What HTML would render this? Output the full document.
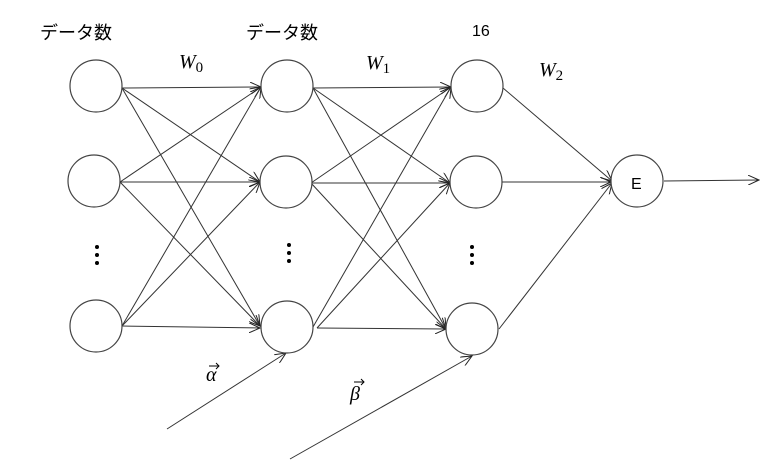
<!DOCTYPE html>
<html><head><meta charset="utf-8"><style>
html,body{margin:0;padding:0;background:#fff;}
svg{display:block}
</style></head><body>
<svg width="768" height="474" viewBox="0 0 768 474" xmlns="http://www.w3.org/2000/svg">
<defs>
<marker id="a" markerWidth="12" markerHeight="10" refX="11" refY="5" orient="auto" markerUnits="userSpaceOnUse">
<path d="M0,0 L11,5 L0,10" fill="none" stroke="#222" stroke-width="1"/>
</marker>
</defs>
<g stroke="#333" stroke-width="1" fill="none" marker-end="url(#a)">
<line x1="122" y1="88" x2="261" y2="87"/>
<line x1="122" y1="88" x2="260" y2="182"/>
<line x1="122" y1="88" x2="260" y2="326"/>
<line x1="120" y1="182" x2="261" y2="87"/>
<line x1="120" y1="182" x2="260" y2="182"/>
<line x1="120" y1="182" x2="260" y2="326"/>
<line x1="122" y1="326" x2="261" y2="87"/>
<line x1="122" y1="326" x2="260" y2="182"/>
<line x1="122" y1="326" x2="260" y2="328"/>
<line x1="313" y1="88" x2="451" y2="87"/>
<line x1="313" y1="88" x2="450" y2="183"/>
<line x1="313" y1="88" x2="446" y2="329"/>
<line x1="311" y1="183" x2="451" y2="87"/>
<line x1="311" y1="183" x2="450" y2="183"/>
<line x1="311" y1="183" x2="446" y2="329"/>
<line x1="313" y1="327" x2="451" y2="87"/>
<line x1="317" y1="328" x2="450" y2="183"/>
<line x1="317" y1="328" x2="446" y2="329"/>
<line x1="503" y1="88" x2="612" y2="181"/>
<line x1="502" y1="182" x2="611" y2="182"/>
<line x1="499" y1="329" x2="612" y2="183"/>
<line x1="664" y1="181" x2="759" y2="180"/>
<line x1="167" y1="429" x2="286" y2="353"/>
<line x1="290" y1="459" x2="472" y2="356"/>
</g>
<g stroke="#444" stroke-width="1.2" fill="#fff">
<circle cx="96" cy="86" r="26"/>
<circle cx="94" cy="181" r="26"/>
<circle cx="96" cy="326" r="26"/>
<circle cx="287" cy="86" r="26"/>
<circle cx="286" cy="182" r="26"/>
<circle cx="287" cy="327" r="26"/>
<circle cx="477" cy="86" r="26"/>
<circle cx="476" cy="182" r="26"/>
<circle cx="472" cy="329" r="26"/>
<circle cx="637" cy="181" r="26"/>
</g>
<g fill="#000">
<circle cx="97" cy="247" r="2"/><circle cx="97" cy="255" r="2"/><circle cx="97" cy="263" r="2"/>
<circle cx="289" cy="245" r="2"/><circle cx="289" cy="253" r="2"/><circle cx="289" cy="261" r="2"/>
<circle cx="472" cy="247" r="2"/><circle cx="472" cy="255" r="2"/><circle cx="472" cy="263" r="2"/>
</g>
<g font-family="Liberation Sans, Noto Sans CJK JP, sans-serif" font-size="18" fill="#000">
<text x="40" y="39">データ数</text>
<text x="246" y="39">データ数</text>
<text x="472" y="36" font-size="16">16</text>
<text x="631" y="189" font-size="16">E</text>
</g>
<g font-family="Liberation Serif, serif" font-style="italic" fill="#000">
<text x="179" y="68" font-size="20">W<tspan font-style="normal" font-size="15" dy="4">0</tspan></text>
<text x="366" y="69" font-size="20">W<tspan font-style="normal" font-size="15" dy="4">1</tspan></text>
<text x="539" y="76" font-size="20">W<tspan font-style="normal" font-size="15" dy="4">2</tspan></text>
<text x="206" y="381" font-size="20">α</text>
<text x="350" y="400" font-size="20">β</text>
</g>
<g stroke="#000" stroke-width="1" fill="none">
<path d="M209,366 L219,366 M216,363 L219,366 L216,369"/>
<path d="M354,382 L364,382 M361,379 L364,382 L361,385"/>
</g>
</svg>
</body></html>
